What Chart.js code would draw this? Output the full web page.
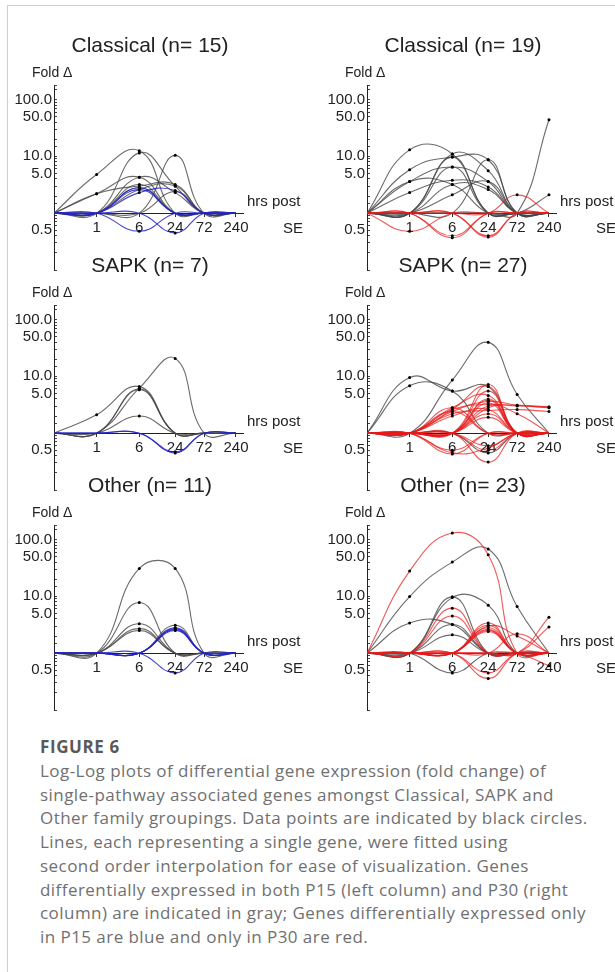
<!DOCTYPE html>
<html>
<head>
<meta charset="utf-8">
<script src="https://cdn.jsdelivr.net/npm/chart.js@4.4.1/dist/chart.umd.min.js"></script>
<style>
  html, body { margin: 0; padding: 0; background: #fff; }
  #page { position: relative; width: 615px; height: 972px; overflow: hidden; background: #fff; }
  #frame { position: absolute; left: 7px; top: 5px; width: 700px; height: 1000px;
           border-left: 1px solid #cfcfcf; border-top: 1px solid #cfcfcf; }
  .panel { position: absolute; width: 310px; height: 260px; }
  .cap { position: absolute; left: 40px; top: 735px; white-space: nowrap;
         font-family: "Open Sans", "Noto Sans", sans-serif; }
  .cap .fig { font-weight: 700; font-size: 17px; letter-spacing: 0.6px; line-height: 24px; color: #595959; }
  .cap .txt { font-size: 17px; letter-spacing: 0.45px; line-height: 23.7px; color: #707070; font-weight: 400; }
</style>
</head>
<body>
<div id="page">
  <div id="frame"></div>
  <div class="panel" style="left:0px;top:24px"><canvas id="c1" width="310" height="260"></canvas></div>
  <div class="panel" style="left:313px;top:24px"><canvas id="c2" width="310" height="260"></canvas></div>
  <div class="panel" style="left:0px;top:244px"><canvas id="c3" width="310" height="260"></canvas></div>
  <div class="panel" style="left:313px;top:244px"><canvas id="c4" width="310" height="260"></canvas></div>
  <div class="panel" style="left:0px;top:464px"><canvas id="c5" width="310" height="260"></canvas></div>
  <div class="panel" style="left:313px;top:464px"><canvas id="c6" width="310" height="260"></canvas></div>
  <div class="cap">
    <div class="fig">FIGURE 6</div>
    <div class="txt">Log-Log plots of differential gene expression (fold change) of<br>single-pathway associated genes amongst Classical, SAPK and<br>Other family groupings. Data points are indicated by black circles.<br>Lines, each representing a single gene, were fitted using<br>second order interpolation for ease of visualization. Genes<br>differentially expressed in both P15 (left column) and P30 (right<br>column) are indicated in gray; Genes differentially expressed only<br>in P15 are blue and only in P30 are red.</div>
  </div>
</div>

<script>
'use strict';

// time points (hrs post SE) and axis labels
const hours = [0, 1, 6, 24, 72, 240];
const hourLabels = ['1', '6', '24', '72', '240'];
const foldTicks = [100, 50, 10, 5, 0.5];
const foldLabels = ['100.0', '50.0', '10.0', '5.0', '0.5'];

// fold change per gene at each time point
const classicalP15Gray = [
  [1, 4.8, 12.5, 1, 1, 1],
  [1, 1, 11.5, 3.0, 1, 1],
  [1, 2.2, 4.3, 1, 1, 1],
  [1, 2.2, 3.0, 3.2, 1, 1],
  [1, 1, 1, 10.4, 1, 1],
  [1, 1, 4.3, 2.3, 1, 1],
  [1, 1, 2.8, 1, 1, 1],
  [1, 1, 2.6, 3.0, 1, 1],
  [1, 1, 3.2, 1, 1, 1],
  [1, 1, 1, 2.4, 1, 1]
];
const classicalP15Blue = [
  [1, 1, 2.6, 1, 1, 1],
  [1, 1, 2.3, 2.5, 1, 1],
  [1, 1, 0.48, 1, 1, 1],
  [1, 1, 1, 0.45, 1, 1],
  [1, 1, 2.8, 1, 1, 1]
];

const classicalP30Gray = [
  [1, 13, 11, 1, 1, 1],
  [1, 5.8, 9.7, 8.7, 1, 1],
  [1, 3.6, 6.5, 3.6, 1, 1],
  [1, 2.3, 3.8, 2.9, 1, 1],
  [1, 1, 11, 5.6, 1, 1],
  [1, 1, 3.2, 2.6, 1, 1],
  [1, 1, 2.1, 3.6, 1, 1],
  [1, 3.6, 3.2, 1, 1, 1],
  [1, 1, 9.7, 1, 1, 1],
  [1, 1, 1, 8.7, 1, 1],
  [1, 1, 1, 1, 1, 44],
  [1, 1, 1, 1, 1, 2.1],
  [1, 1, 6.5, 1, 1, 1]
];
const classicalP30Red = [
  [1, 0.48, 1, 1, 1, 1],
  [1, 1, 0.37, 1, 1, 1],
  [1, 1, 0.4, 1, 1, 1],
  [1, 1, 1, 0.38, 1, 1],
  [1, 1, 1, 1, 2.1, 1],
  [1, 1, 1, 0.4, 1, 1]
];

const sapkP15Gray = [
  [1, 2.1, 6.6, 1, 1, 1],
  [1, 1, 6.2, 20.7, 1, 1],
  [1, 1, 5.8, 1, 1, 1],
  [1, 1, 2.0, 1, 1, 1],
  [1, 1, 6.0, 1, 1, 1]
];
const sapkP15Blue = [
  [1, 1, 1, 0.45, 1, 1],
  [1, 1, 1, 0.47, 1, 1]
];

const sapkP30Gray = [
  [1, 9.5, 5.5, 6.6, 1, 1],
  [1, 6.8, 5.5, 1, 1, 1],
  [1, 1, 8.6, 39.6, 4.8, 1],
  [1, 1, 1, 0.45, 1, 1]
];
const sapkP30Red = [
  [1, 1, 1, 7.2, 1, 1],
  [1, 1, 2.6, 6.6, 1, 1],
  [1, 1, 1, 5.5, 1, 1],
  [1, 1, 2.8, 4.6, 1, 1],
  [1, 1, 2.4, 3.6, 3.1, 2.8],
  [1, 1, 2.6, 3.2, 3.0, 2.9],
  [1, 1, 1, 2.8, 3.1, 2.9],
  [1, 1, 2.2, 2.5, 2.6, 2.4],
  [1, 1, 1, 3.4, 1, 1],
  [1, 1, 2.0, 2.6, 1, 1],
  [1, 1, 1, 2.2, 1, 1],
  [1, 1, 1, 4.0, 1, 1],
  [1, 1, 2.8, 1, 1, 1],
  [1, 1, 1, 3.0, 2.2, 1],
  [1, 1, 0.43, 1, 1, 1],
  [1, 1, 0.45, 0.55, 1, 1],
  [1, 1, 1, 0.31, 1, 1],
  [1, 1, 1, 0.5, 1, 1],
  [1, 1, 1, 0.6, 1, 1],
  [1, 1, 1, 1.9, 1, 1],
  [1, 1, 2.4, 1, 1, 1],
  [1, 1, 0.5, 1, 1, 1],
  [1, 1, 1, 3.8, 1, 1]
];

const otherP15Gray = [
  [1, 1, 31, 31, 1, 1],
  [1, 1, 7.8, 1, 1, 1],
  [1, 1, 3.3, 1, 1, 1],
  [1, 1, 2.7, 1, 1, 1],
  [1, 1, 2.5, 1, 1, 1],
  [1, 1, 1, 3.1, 1, 1]
];
const otherP15Blue = [
  [1, 1, 1, 2.6, 1, 1],
  [1, 1, 1, 2.7, 1, 1],
  [1, 1, 1, 2.5, 1, 1],
  [1, 1, 1, 0.45, 1, 1],
  [1, 1, 1, 2.8, 1, 1]
];

const otherP30Gray = [
  [1, 9.9, 40, 68, 6.6, 1],
  [1, 3.4, 3.2, 1, 1, 1],
  [1, 1, 9.5, 7.0, 1, 1],
  [1, 1, 9.8, 1, 1, 1],
  [1, 1, 3.2, 1, 1, 1],
  [1, 1, 2.1, 1, 1, 1],
  [1, 1, 0.45, 1, 1, 1]
];
const otherP30Red = [
  [1, 27.8, 130, 54, 1, 1],
  [1, 1, 6.2, 1, 1, 1],
  [1, 1, 1, 3.1, 1, 1],
  [1, 1, 1, 2.8, 1, 1],
  [1, 1, 1, 2.6, 1, 1],
  [1, 1, 1, 2.5, 1, 1],
  [1, 1, 1, 2.4, 1, 1],
  [1, 1, 1, 3.4, 1, 1],
  [1, 1, 1, 0.45, 1, 1],
  [1, 1, 1, 0.36, 1, 1],
  [1, 1, 1, 1, 2.2, 1],
  [1, 1, 1, 1, 1, 4.3],
  [1, 1, 1, 1, 1, 2.9],
  [1, 1, 1, 1, 1, 0.6],
  [1, 1, 1, 3.0, 2.0, 1],
  [1, 1, 4.5, 1, 1, 1]
];

const GRAY = 'rgba(70, 70, 70, 0.8)';
const BLUE = 'rgba(35, 35, 200, 0.85)';
const RED = 'rgba(232, 25, 25, 0.72)';
const FONT = '"Liberation Sans", Arial, sans-serif';

// hours are placed on a log axis, shifted so that 0 fits
function xpos(h) {
  return Math.log10(h + 0.25);
}

function toDataset(row, color, order) {
  return {
    data: row.map((v, i) => ({ x: xpos(hours[i]), y: v })),
    borderColor: color,
    borderWidth: 1.1,
    tension: 0.45,
    order: order,
    pointRadius: c => (c.raw && c.raw.y !== 1 ? 1.5 : 0),
    pointBackgroundColor: '#000',
    pointBorderWidth: 0
  };
}

// titles and axis captions that sit around the plot
const panelText = {
  id: 'panelText',
  afterDraw(chart, args, opts) {
    const ctx = chart.ctx;
    const area = chart.chartArea;
    const yb = chart.scales.y.getPixelForValue(1);
    ctx.save();
    ctx.fillStyle = '#222';
    ctx.textBaseline = 'middle';
    ctx.textAlign = 'center';
    ctx.font = '21px ' + FONT;
    ctx.fillText(opts.title, 150, yb - 167);
    ctx.textAlign = 'left';
    ctx.font = '14px ' + FONT;
    ctx.fillText('Fold Δ', 32, yb - 140);
    ctx.font = '15px ' + FONT;
    ctx.fillText('hrs post', area.right + 4, yb - 11);
    ctx.fillText('SE', area.right + 40, yb + 16);
    ctx.restore();
  }
};

function drawPanel(id, title, grayRows, colorRows, color) {
  const datasets = [];
  for (let i = 0; i < colorRows.length; i++) {
    datasets.push(toDataset(colorRows[i], color, 1));
  }
  for (let i = 0; i < grayRows.length; i++) {
    datasets.push(toDataset(grayRows[i], GRAY, 2));
  }

  new Chart(document.getElementById(id), {
    type: 'line',
    data: { datasets: datasets },
    plugins: [panelText],
    options: {
      responsive: false,
      animation: false,
      events: [],
      layout: { padding: { left: 0, right: 67, top: 61, bottom: 4 } },
      plugins: {
        legend: { display: false },
        tooltip: { enabled: false },
        panelText: { title: title }
      },
      scales: {
        x: {
          type: 'linear',
          position: { y: 1 },
          min: xpos(0),
          max: 2.496,
          afterBuildTicks: s => {
            s.ticks = hours.slice(1).map(h => ({ value: xpos(h) }));
          },
          ticks: {
            callback: (v, i) => hourLabels[i],
            autoSkip: false,
            maxRotation: 0,
            padding: 3,
            color: '#222',
            font: { family: FONT, size: 15 }
          },
          grid: { drawOnChartArea: false, tickLength: 3, color: '#333' },
          border: { color: '#222', width: 1 }
        },
        y: {
          type: 'logarithmic',
          min: 0.1,
          max: 180,
          afterFit: s => { s.width = 54; },
          ticks: {
            autoSkip: false,
            padding: 5,
            color: '#222',
            font: { family: FONT, size: 15 },
            callback: v => {
              for (let i = 0; i < foldTicks.length; i++) {
                if (Math.abs(v - foldTicks[i]) < foldTicks[i] * 1e-6) return foldLabels[i];
              }
              return '';
            }
          },
          grid: { drawOnChartArea: false, tickLength: -3, color: '#444' },
          border: { color: '#222', width: 1 }
        }
      }
    }
  });
}

drawPanel('c1', 'Classical (n= 15)', classicalP15Gray, classicalP15Blue, BLUE);
drawPanel('c2', 'Classical (n= 19)', classicalP30Gray, classicalP30Red, RED);
drawPanel('c3', 'SAPK (n= 7)', sapkP15Gray, sapkP15Blue, BLUE);
drawPanel('c4', 'SAPK (n= 27)', sapkP30Gray, sapkP30Red, RED);
drawPanel('c5', 'Other (n= 11)', otherP15Gray, otherP15Blue, BLUE);
drawPanel('c6', 'Other (n= 23)', otherP30Gray, otherP30Red, RED);
</script>
</body>
</html>
